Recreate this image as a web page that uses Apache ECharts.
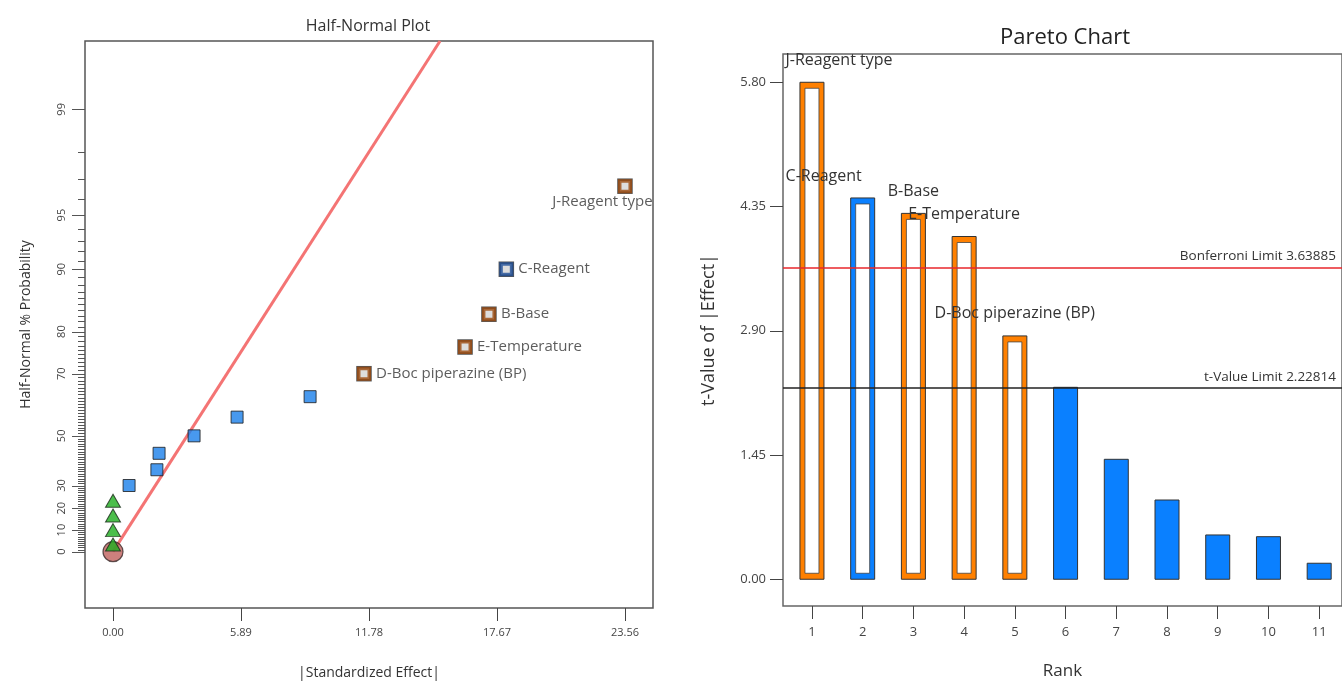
<!DOCTYPE html>
<html>
<head>
<meta charset="utf-8">
<script src="https://cdn.jsdelivr.net/npm/echarts@6/dist/echarts.min.js"></script>
<style>
  html, body { margin: 0; padding: 0; background: #fff; }
  #chart { width: 1342px; height: 685px; }
</style>
</head>
<body>
<div id="chart"></div>
<script>
// ---- Half-normal plot: |standardized effect| vs half-normal probability (%) ----
const termEffect = [0.74, 2.02, 2.12, 3.73, 5.71, 9.07, 11.55, 16.2, 17.3, 18.1, 23.56];
const termProb   = [30.0, 36.67, 43.33, 50.0, 56.67, 63.33, 70.0, 76.67, 83.33, 90.0, 96.67];
const termName   = ['', '', '', '', '', '', 'D-Boc piperazine (BP)', 'E-Temperature', 'B-Base', 'C-Reagent', 'J-Reagent type'];
const termSign   = ['', '', '', '', '', '', '+', '+', '+', '-', '+'];
const errorEffect = [0, 0, 0, 0];
const errorProb   = [3.33, 10.0, 16.67, 23.33];
const originEffect = [0];
const originProb   = [0];
const refLineEffect = [0, 15.05];
const refLineProb   = [0, 99.706];
const probTickLabels = [0, 10, 20, 30, 50, 70, 80, 90, 95, 99];
const effectTicks = [0.00, 5.89, 11.78, 17.67, 23.56];

// ---- Pareto chart: t-value of |effect| by rank ----
const paretoRank = [1, 2, 3, 4, 5, 6, 7, 8, 9, 10, 11];
const paretoT    = [5.80, 4.45, 4.27, 4.00, 2.84, 2.24, 1.40, 0.925, 0.517, 0.497, 0.187];
const paretoName = ['J-Reagent type', 'C-Reagent', 'B-Base', 'E-Temperature', 'D-Boc piperazine (BP)', '', '', '', '', '', ''];
const paretoSign = ['+', '-', '+', '+', '+', '-', '-', '-', '-', '-', '-'];
const paretoSelected = [true, true, true, true, true, false, false, false, false, false, false];
const bonferroniLimit = 3.63885;
const tValueLimit = 2.22814;
const tTicks = [0.00, 1.45, 2.90, 4.35, 5.80];

// Normal-probability scale helpers
function erf(x) {
  const s = x < 0 ? -1 : 1; x = Math.abs(x);
  const t = 1 / (1 + 0.3275911 * x);
  const y = 1 - (((((1.061405429 * t - 1.453152027) * t) + 1.421413741) * t - 0.284496736) * t + 0.254829592) * t * Math.exp(-x * x);
  return s * y;
}
function normCdf(x) { return 0.5 * (1 + erf(x / Math.SQRT2)); }
function probit(p) {
  let lo = -8, hi = 8;
  for (let i = 0; i < 80; i++) {
    const m = (lo + hi) / 2;
    if (normCdf(m) < p) lo = m; else hi = m;
  }
  return (lo + hi) / 2;
}
// half-normal quantile for a percentage
function hn(pct) { return pct <= 0 ? 0 : probit(0.5 + pct / 200); }

const EFFECT_MIN = -1.289, EFFECT_MAX = 24.85;
const Z_MIN = -0.328, Z_MAX = 2.974;

const majorZ = probTickLabels.map(hn);
// one tick per whole percent, longer where a label sits
const probTicks = [];
for (let p = 0; p < 100; p++) probTicks.push([EFFECT_MIN, hn(p), probTickLabels.indexOf(p) >= 0 ? 1 : 0]);

const FONT = '"Open Sans", "Noto Sans", sans-serif';
const BROWN = '#9C4A0E', DARKBLUE = '#1F4F99';
const ORANGE = '#FF8000', BLUE = '#0A80FF';

const termSel = [], termPlain = [];
termEffect.forEach((e, i) => {
  const pt = [e, hn(termProb[i])];
  if (termName[i]) termSel.push({ value: pt, name: termName[i], sign: termSign[i] });
  else termPlain.push(pt);
});

const chart = echarts.init(document.getElementById('chart'), null, { renderer: 'canvas' });

chart.setOption({
  animation: false,
  backgroundColor: '#fff',
  textStyle: { fontFamily: FONT },
  graphic: [
    { type: 'text', x: 368, y: 26, style: { text: 'Half-Normal Plot', fontSize: 16, fontFamily: FONT, fill: '#333', align: 'center', verticalAlign: 'middle' } },
    { type: 'text', x: 1065, y: 38, style: { text: 'Pareto Chart', fontSize: 22, fontFamily: FONT, fill: '#222', align: 'center', verticalAlign: 'middle' } }
  ],
  grid: [
    { left: 85, right: 689, top: 41, bottom: 77, show: true, borderColor: '#555', borderWidth: 1.5, backgroundColor: 'transparent' },
    { left: 783, right: -2, top: 54, bottom: 79, show: true, borderColor: '#666', borderWidth: 1.5, backgroundColor: 'transparent' }
  ],
  xAxis: [
    {
      gridIndex: 0, type: 'value', position: 'bottom', min: EFFECT_MIN, max: EFFECT_MAX,
      name: '|Standardized Effect|', nameLocation: 'middle', nameGap: 58,
      nameTextStyle: { fontSize: 14, color: '#333', fontFamily: FONT },
      axisLine: { show: false, onZero: false }, splitLine: { show: false },
      axisTick: { customValues: effectTicks, length: 13, lineStyle: { color: '#444' } },
      axisLabel: { customValues: effectTicks, margin: 19, fontSize: 11, color: '#444', formatter: v => v.toFixed(2) }
    },
    {
      gridIndex: 1, type: 'value', position: 'bottom', min: 0.429, max: 11.45,
      name: 'Rank', nameLocation: 'middle', nameGap: 57,
      nameTextStyle: { fontSize: 17, color: '#333', fontFamily: FONT },
      axisLine: { show: false, onZero: false }, splitLine: { show: false },
      axisTick: { customValues: paretoRank, length: 13, lineStyle: { color: '#444' } },
      axisLabel: { customValues: paretoRank, margin: 20, fontSize: 13, color: '#444' }
    }
  ],
  yAxis: [
    {
      gridIndex: 0, type: 'value', position: 'left', min: Z_MIN, max: Z_MAX,
      name: 'Half-Normal % Probability', nameLocation: 'middle', nameGap: 52, nameRotate: 90,
      nameTextStyle: { fontSize: 14, color: '#333', fontFamily: FONT },
      axisLine: { show: false, onZero: false }, splitLine: { show: false },
      axisTick: { show: false },
      axisLabel: {
        customValues: majorZ, margin: 18, fontSize: 11, color: '#444', rotate: 90,
        formatter: v => {
          const i = majorZ.findIndex(z => Math.abs(z - v) < 1e-6);
          return i >= 0 ? String(probTickLabels[i]) : '';
        }
      }
    },
    {
      gridIndex: 1, type: 'value', position: 'left', min: -0.312, max: 6.13,
      name: 't-Value of |Effect|', nameLocation: 'middle', nameGap: 65, nameRotate: 90,
      nameTextStyle: { fontSize: 18, color: '#333', fontFamily: FONT },
      axisLine: { show: false, onZero: false }, splitLine: { show: false },
      axisTick: { customValues: tTicks, length: 13, lineStyle: { color: '#444' } },
      axisLabel: { customValues: tTicks, margin: 17, fontSize: 13, color: '#444', formatter: v => v.toFixed(2) }
    }
  ],
  series: [
    // probability-scale ticks along the left edge
    {
      type: 'custom', xAxisIndex: 0, yAxisIndex: 0, clip: false, silent: true,
      data: probTicks,
      renderItem: (params, api) => {
        const p = api.coord([api.value(0), api.value(1)]);
        const len = api.value(2) ? 13 : 7;
        const y = Math.round(p[1]) + 0.5;
        return { type: 'line', shape: { x1: p[0] - len, y1: y, x2: p[0], y2: y }, style: { stroke: '#555', lineWidth: 1 } };
      },
      z: 1
    },
    // reference line through the origin
    {
      type: 'line', xAxisIndex: 0, yAxisIndex: 0, symbol: 'none',
      data: refLineEffect.map((e, i) => [e, hn(refLineProb[i])]),
      lineStyle: { color: '#F47474', width: 3 }, z: 2
    },
    // origin marker
    {
      type: 'scatter', xAxisIndex: 0, yAxisIndex: 0, symbol: 'circle', symbolSize: 20,
      data: originEffect.map((e, i) => [e, hn(originProb[i])]),
      itemStyle: { color: '#C0605C', borderColor: '#3a2a2a', borderWidth: 1.2 }, z: 3
    },
    // error estimates
    {
      type: 'scatter', xAxisIndex: 0, yAxisIndex: 0, symbol: 'triangle', symbolSize: [15, 13],
      data: errorEffect.map((e, i) => [e, hn(errorProb[i])]),
      itemStyle: { color: '#1FAE1F', borderColor: '#1a2a1a', borderWidth: 1 }, z: 4
    },
    // unselected terms
    {
      type: 'scatter', xAxisIndex: 0, yAxisIndex: 0, symbol: 'rect', symbolSize: 12,
      data: termPlain,
      itemStyle: { color: '#1A7FEA', borderColor: '#1a1a1a', borderWidth: 1 }, z: 4
    },
    // selected terms: dark outline
    {
      type: 'scatter', xAxisIndex: 0, yAxisIndex: 0, symbol: 'rect', symbolSize: 15.5,
      data: termSel.map(d => d.value),
      itemStyle: { color: '#2a2a2a' }, z: 4
    },
    // selected terms: coloured frame with label
    {
      type: 'scatter', xAxisIndex: 0, yAxisIndex: 0, symbol: 'rect', symbolSize: 10.5, z: 5,
      data: termSel.map(d => ({
        value: d.value, name: d.name,
        itemStyle: { color: '#fff', borderColor: d.sign === '-' ? DARKBLUE : BROWN, borderWidth: 3.5 },
        label: d.name === 'J-Reagent type'
          ? { position: [-65.75, 22.25], align: 'left', verticalAlign: 'middle' }
          : { position: 'right', distance: 5 }
      })),
      label: { show: true, formatter: p => p.name, fontSize: 15, color: '#333', fontFamily: FONT }
    },
    // Pareto bars
    {
      type: 'custom', xAxisIndex: 1, yAxisIndex: 1,
      data: paretoRank.map((r, i) => [r, paretoT[i]]),
      encode: { x: 0, y: 1 },
      renderItem: (params, api) => {
        const i = params.dataIndex;
        const top = api.coord([api.value(0), api.value(1)]);
        const base = api.coord([api.value(0), 0]);
        const w = 24;
        const x = top[0] - w / 2;
        const h = base[1] - top[1];
        const col = paretoSign[i] === '+' ? ORANGE : BLUE;
        const children = [
          { type: 'rect', shape: { x: x, y: top[1], width: w, height: h }, style: { fill: col, stroke: '#333', lineWidth: 1 } }
        ];
        if (paretoSelected[i]) {
          children.push({ type: 'rect', shape: { x: x + 5, y: top[1] + 6, width: w - 10, height: h - 12 }, style: { fill: '#fff', stroke: '#444', lineWidth: 0.8 } });
        }
        if (paretoName[i]) {
          const shift = i === 0 ? 27 : (i === 1 ? -39 : 0);
          children.push({
            type: 'text', x: top[0] + shift, y: top[1] - 22,
            style: { text: paretoName[i], fontSize: 16, fontFamily: FONT, fill: '#333', align: 'center', verticalAlign: 'middle' }
          });
        }
        return { type: 'group', children: children };
      },
      markLine: {
        silent: true, symbol: 'none',
        data: [
          { yAxis: bonferroniLimit, lineStyle: { color: '#E8262B', width: 1.5, type: 'solid' },
            label: { formatter: 'Bonferroni Limit ' + bonferroniLimit } },
          { yAxis: tValueLimit, lineStyle: { color: '#222', width: 1.5, type: 'solid' },
            label: { formatter: 't-Value Limit ' + tValueLimit } }
        ],
        label: { position: 'insideEndTop', fontSize: 13.5, color: '#333', fontFamily: FONT, distance: [6, 4] }
      },
      z: 3
    }
  ]
});
</script>
</body>
</html>
